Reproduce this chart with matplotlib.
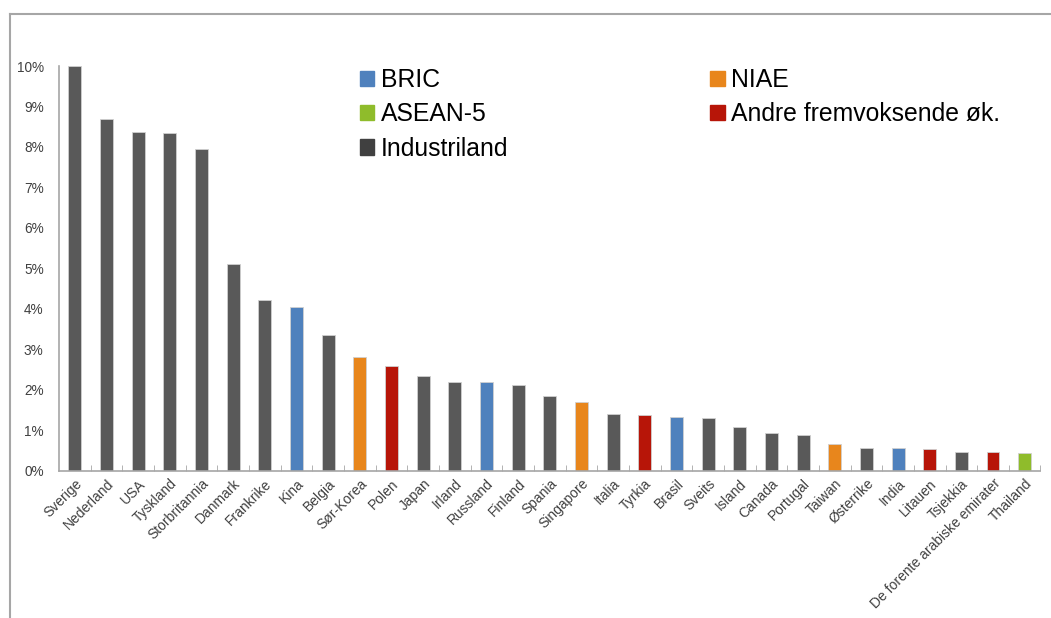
import matplotlib.pyplot as plt
from matplotlib.patches import Patch
from matplotlib.lines import Line2D
from matplotlib.ticker import FuncFormatter

land = ['Sverige', 'Nederland', 'USA', 'Tyskland', 'Storbritannia', 'Danmark',
        'Frankrike', 'Kina', 'Belgia', 'Sør-Korea', 'Polen', 'Japan', 'Irland',
        'Russland', 'Finland', 'Spania', 'Singapore', 'Italia', 'Tyrkia', 'Brasil',
        'Sveits', 'Island', 'Canada', 'Portugal', 'Taiwan', 'Østerrike', 'India',
        'Litauen', 'Tsjekkia', 'De forente arabiske emirater', 'Thailand']
verdi = [10.0, 8.69, 8.38, 8.35, 7.94, 5.12, 4.23, 4.05, 3.35, 2.81, 2.59, 2.34,
         2.20, 2.20, 2.12, 1.85, 1.70, 1.41, 1.38, 1.33, 1.31, 1.09, 0.94, 0.89,
         0.67, 0.57, 0.57, 0.54, 0.47, 0.47, 0.44]
gruppe = ['I', 'I', 'I', 'I', 'I', 'I', 'I', 'BRIC', 'I', 'NIAE', 'A', 'I', 'I',
          'BRIC', 'I', 'I', 'NIAE', 'I', 'A', 'BRIC', 'I', 'I', 'I', 'I', 'NIAE',
          'I', 'BRIC', 'A', 'I', 'A', 'ASEAN']

farger = {'BRIC': '#4F81BD', 'ASEAN': '#8FBC2B', 'I': '#595959',
          'NIAE': '#E8861C', 'A': '#B71508'}

plt.rcParams['font.family'] = ['Liberation Sans', 'DejaVu Sans']

fig = plt.figure(figsize=(10.51, 6.18), dpi=100)
ax = fig.add_axes([0.0561, 0.2379, 0.9339, 0.6553])

x = range(len(land))
ax.bar(x, verdi, width=0.41, color=[farger[g] for g in gruppe],
       edgecolor='#D0D0D0', linewidth=0.6)

ax.set_xlim(-0.5, len(land) - 0.5)
ax.set_ylim(0, 10)
ax.set_yticks(range(0, 11))
ax.yaxis.set_major_formatter(FuncFormatter(lambda v, p: f'{v:.0f}%'))
ax.tick_params(axis='y', length=0, pad=11, labelsize=9.8, labelcolor='#404040')

ax.set_xticks(x)
ax.set_xticklabels(land, rotation=45, ha='right', va='top', rotation_mode='anchor',
                   fontsize=10, color='#404040')
ax.set_xticks([i + 0.5 for i in x], minor=True)
ax.tick_params(axis='x', which='major', length=0, pad=4)
ax.tick_params(axis='x', which='minor', length=4, direction='in', color='#A6A6A6')

for s in ['top', 'right']:
    ax.spines[s].set_visible(False)
for s in ['left', 'bottom']:
    ax.spines[s].set_color('#A6A6A6')
    ax.spines[s].set_linewidth(1.2)

handles = [Patch(color=farger['BRIC'], label='BRIC'),
           Patch(color=farger['ASEAN'], label='ASEAN-5'),
           Patch(color='#404040', label='Industriland'),
           Patch(color=farger['NIAE'], label='NIAE'),
           Patch(color=farger['A'], label='Andre fremvoksende øk.')]
fig.legend(handles=handles, ncol=2, loc='upper left', bbox_to_anchor=(0.3425, 0.890),
           frameon=False, fontsize=17.8, handlelength=0.58, handleheight=0.58,
           handletextpad=0.28, labelspacing=0.42, columnspacing=8.15, borderpad=0,
           borderaxespad=0)

# ramme rundt figuren
ytop = 1 - 14 / 618
xl = 10 / 1051
fig.add_artist(Line2D([xl, 1], [ytop, ytop], color='#A6A6A6', lw=1.5))
fig.add_artist(Line2D([xl, xl], [0, ytop], color='#A6A6A6', lw=1.5))

fig.savefig('out.png', dpi=100)
